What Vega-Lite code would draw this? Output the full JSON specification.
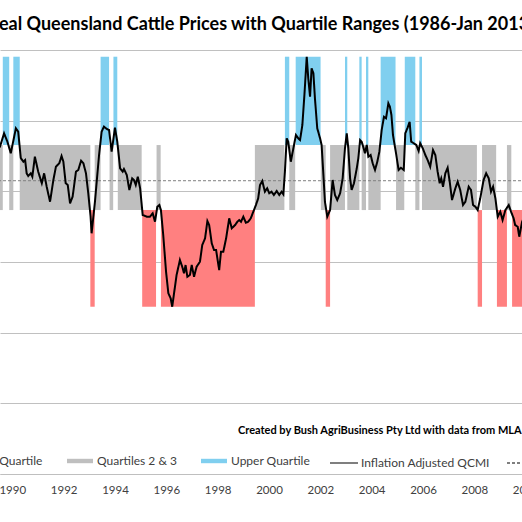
{
  "$schema": "https://vega.github.io/schema/vega-lite/v6.json",
  "width": 536,
  "height": 424,
  "autosize": {"type": "none"},
  "padding": {"left": 0, "right": -14, "top": 50, "bottom": 48},
  "background": "white",
  "title": {
    "text": "Real Queensland Cattle Prices with Quartile Ranges (1986-Jan 2013)",
    "font": "Lato",
    "fontSize": 18,
    "fontWeight": "bold",
    "color": "#000000",
    "anchor": "middle",
    "dx": -7,
    "offset": 16
  },
  "config": {
    "view": {"stroke": null},
    "font": "Lato"
  },
  "datasets": {
    "quartiles": [
      {"quartile": "Lower Quartile", "low": 236.7, "high": 373.5},
      {"quartile": "Quartiles 2 & 3", "low": 373.5, "high": 465.5},
      {"quartile": "Upper Quartile", "low": 465.5, "high": 590.5}
    ],
    "median": [
      {"price": 415}
    ],
    "note": [
      {"year": 1998.79, "price": 61.2, "label": "Created by Bush AgriBusiness Pty Ltd with data from MLA"}
    ],
    "bands": [
      {"start": 1989.40, "end": 1989.63, "quartile": "Quartiles 2 & 3"},
      {"start": 1989.63, "end": 1989.88, "quartile": "Upper Quartile"},
      {"start": 1989.88, "end": 1990.04, "quartile": "Quartiles 2 & 3"},
      {"start": 1990.04, "end": 1990.29, "quartile": "Upper Quartile"},
      {"start": 1990.29, "end": 1993.04, "quartile": "Quartiles 2 & 3"},
      {"start": 1993.04, "end": 1993.21, "quartile": "Lower Quartile"},
      {"start": 1993.21, "end": 1993.44, "quartile": "Quartiles 2 & 3"},
      {"start": 1993.44, "end": 1993.77, "quartile": "Upper Quartile"},
      {"start": 1993.79, "end": 1993.93, "quartile": "Quartiles 2 & 3"},
      {"start": 1993.94, "end": 1994.09, "quartile": "Upper Quartile"},
      {"start": 1994.11, "end": 1995.04, "quartile": "Quartiles 2 & 3"},
      {"start": 1995.06, "end": 1995.60, "quartile": "Lower Quartile"},
      {"start": 1995.62, "end": 1995.78, "quartile": "Quartiles 2 & 3"},
      {"start": 1995.79, "end": 1999.45, "quartile": "Lower Quartile"},
      {"start": 1999.45, "end": 2000.60, "quartile": "Quartiles 2 & 3"},
      {"start": 2000.62, "end": 2000.79, "quartile": "Upper Quartile"},
      {"start": 2000.79, "end": 2001.02, "quartile": "Quartiles 2 & 3"},
      {"start": 2001.04, "end": 2002.01, "quartile": "Upper Quartile"},
      {"start": 2002.02, "end": 2002.21, "quartile": "Quartiles 2 & 3"},
      {"start": 2002.21, "end": 2002.38, "quartile": "Lower Quartile"},
      {"start": 2002.38, "end": 2002.96, "quartile": "Quartiles 2 & 3"},
      {"start": 2002.96, "end": 2003.05, "quartile": "Upper Quartile"},
      {"start": 2003.05, "end": 2003.52, "quartile": "Quartiles 2 & 3"},
      {"start": 2003.52, "end": 2003.61, "quartile": "Upper Quartile"},
      {"start": 2003.61, "end": 2003.78, "quartile": "Quartiles 2 & 3"},
      {"start": 2003.78, "end": 2003.87, "quartile": "Upper Quartile"},
      {"start": 2003.87, "end": 2004.35, "quartile": "Quartiles 2 & 3"},
      {"start": 2004.35, "end": 2004.93, "quartile": "Upper Quartile"},
      {"start": 2004.95, "end": 2005.27, "quartile": "Quartiles 2 & 3"},
      {"start": 2005.29, "end": 2005.70, "quartile": "Upper Quartile"},
      {"start": 2005.70, "end": 2005.86, "quartile": "Quartiles 2 & 3"},
      {"start": 2005.86, "end": 2005.96, "quartile": "Upper Quartile"},
      {"start": 2005.96, "end": 2008.10, "quartile": "Quartiles 2 & 3"},
      {"start": 2008.13, "end": 2008.30, "quartile": "Lower Quartile"},
      {"start": 2008.30, "end": 2008.85, "quartile": "Quartiles 2 & 3"},
      {"start": 2008.88, "end": 2009.27, "quartile": "Lower Quartile"},
      {"start": 2009.27, "end": 2009.44, "quartile": "Quartiles 2 & 3"},
      {"start": 2009.47, "end": 2010.10, "quartile": "Lower Quartile"}
    ],
    "prices": [
      {"year": 1989.40, "price": 458.5},
      {"year": 1989.52, "price": 463.2},
      {"year": 1989.68, "price": 482.1},
      {"year": 1989.81, "price": 470.2},
      {"year": 1989.94, "price": 453.8},
      {"year": 1990.14, "price": 489.2},
      {"year": 1990.23, "price": 484.4},
      {"year": 1990.33, "price": 447.2},
      {"year": 1990.43, "price": 441.9},
      {"year": 1990.50, "price": 444.3},
      {"year": 1990.56, "price": 425.5},
      {"year": 1990.62, "price": 421.7},
      {"year": 1990.72, "price": 425.5},
      {"year": 1990.78, "price": 420.7},
      {"year": 1990.88, "price": 449.0},
      {"year": 1991.01, "price": 427.8},
      {"year": 1991.15, "price": 411.4},
      {"year": 1991.24, "price": 425.5},
      {"year": 1991.34, "price": 406.5},
      {"year": 1991.47, "price": 385.3},
      {"year": 1991.60, "price": 416.0},
      {"year": 1991.70, "price": 434.9},
      {"year": 1991.83, "price": 439.7},
      {"year": 1991.92, "price": 450.0},
      {"year": 1991.99, "price": 441.9},
      {"year": 1992.08, "price": 411.4},
      {"year": 1992.16, "price": 409.0},
      {"year": 1992.25, "price": 383.1},
      {"year": 1992.35, "price": 392.4},
      {"year": 1992.48, "price": 427.8},
      {"year": 1992.57, "price": 430.2},
      {"year": 1992.68, "price": 443.3},
      {"year": 1992.77, "price": 439.7},
      {"year": 1992.87, "price": 425.5},
      {"year": 1992.96, "price": 397.2},
      {"year": 1993.05, "price": 364.1},
      {"year": 1993.09, "price": 340.6},
      {"year": 1993.22, "price": 385.3},
      {"year": 1993.38, "price": 451.4},
      {"year": 1993.48, "price": 484.4},
      {"year": 1993.57, "price": 491.5},
      {"year": 1993.68, "price": 488.2},
      {"year": 1993.77, "price": 486.8},
      {"year": 1993.87, "price": 456.1},
      {"year": 1994.00, "price": 490.1},
      {"year": 1994.09, "price": 470.2},
      {"year": 1994.20, "price": 432.6},
      {"year": 1994.30, "price": 427.8},
      {"year": 1994.35, "price": 431.6},
      {"year": 1994.46, "price": 423.1},
      {"year": 1994.56, "price": 401.9},
      {"year": 1994.67, "price": 418.4},
      {"year": 1994.74, "price": 416.0},
      {"year": 1994.81, "price": 409.0},
      {"year": 1994.89, "price": 420.7},
      {"year": 1994.98, "price": 404.3},
      {"year": 1995.08, "price": 366.5},
      {"year": 1995.24, "price": 364.1},
      {"year": 1995.36, "price": 364.1},
      {"year": 1995.47, "price": 368.9},
      {"year": 1995.56, "price": 357.0},
      {"year": 1995.65, "price": 378.2},
      {"year": 1995.73, "price": 380.6},
      {"year": 1995.79, "price": 373.6},
      {"year": 1995.88, "price": 338.2},
      {"year": 1995.99, "price": 286.2},
      {"year": 1996.08, "price": 255.7},
      {"year": 1996.17, "price": 248.6},
      {"year": 1996.23, "price": 236.7},
      {"year": 1996.31, "price": 257.9},
      {"year": 1996.40, "price": 281.6},
      {"year": 1996.53, "price": 302.8},
      {"year": 1996.62, "price": 293.3},
      {"year": 1996.69, "price": 284.0},
      {"year": 1996.75, "price": 295.7},
      {"year": 1996.82, "price": 279.2},
      {"year": 1996.92, "price": 281.6},
      {"year": 1996.99, "price": 295.7},
      {"year": 1997.08, "price": 279.2},
      {"year": 1997.18, "price": 293.3},
      {"year": 1997.31, "price": 300.4},
      {"year": 1997.40, "price": 324.0},
      {"year": 1997.51, "price": 333.5},
      {"year": 1997.60, "price": 358.0},
      {"year": 1997.67, "price": 352.3},
      {"year": 1997.77, "price": 326.4},
      {"year": 1997.86, "price": 316.9},
      {"year": 1997.94, "price": 316.9},
      {"year": 1998.06, "price": 288.6},
      {"year": 1998.13, "price": 314.5},
      {"year": 1998.22, "price": 314.5},
      {"year": 1998.33, "price": 333.5},
      {"year": 1998.45, "price": 361.8},
      {"year": 1998.55, "price": 347.7},
      {"year": 1998.68, "price": 352.3},
      {"year": 1998.77, "price": 357.0},
      {"year": 1998.84, "price": 359.4},
      {"year": 1998.91, "price": 357.0},
      {"year": 1999.00, "price": 364.1},
      {"year": 1999.10, "price": 355.6},
      {"year": 1999.19, "price": 357.0},
      {"year": 1999.29, "price": 361.8},
      {"year": 1999.39, "price": 371.2},
      {"year": 1999.49, "price": 380.6},
      {"year": 1999.58, "price": 390.1},
      {"year": 1999.65, "price": 409.0},
      {"year": 1999.74, "price": 414.6},
      {"year": 1999.84, "price": 399.5},
      {"year": 1999.93, "price": 404.3},
      {"year": 2000.01, "price": 397.2},
      {"year": 2000.10, "price": 399.5},
      {"year": 2000.19, "price": 394.8},
      {"year": 2000.30, "price": 400.5},
      {"year": 2000.40, "price": 394.8},
      {"year": 2000.49, "price": 399.5},
      {"year": 2000.56, "price": 395.8},
      {"year": 2000.62, "price": 427.8},
      {"year": 2000.69, "price": 475.0},
      {"year": 2000.75, "price": 470.2},
      {"year": 2000.85, "price": 441.9},
      {"year": 2000.95, "price": 460.9},
      {"year": 2001.05, "price": 479.7},
      {"year": 2001.14, "price": 475.0},
      {"year": 2001.21, "price": 472.6},
      {"year": 2001.30, "price": 493.9},
      {"year": 2001.38, "price": 536.3},
      {"year": 2001.47, "price": 590.5},
      {"year": 2001.53, "price": 560.0},
      {"year": 2001.60, "price": 533.9},
      {"year": 2001.66, "price": 574.1},
      {"year": 2001.73, "price": 567.1},
      {"year": 2001.79, "price": 531.7},
      {"year": 2001.88, "price": 489.2},
      {"year": 2001.99, "price": 475.0},
      {"year": 2002.05, "price": 465.6},
      {"year": 2002.12, "price": 423.1},
      {"year": 2002.18, "price": 385.3},
      {"year": 2002.27, "price": 364.1},
      {"year": 2002.38, "price": 373.6},
      {"year": 2002.48, "price": 416.0},
      {"year": 2002.57, "price": 394.8},
      {"year": 2002.66, "price": 387.7},
      {"year": 2002.77, "price": 397.2},
      {"year": 2002.87, "price": 418.4},
      {"year": 2002.96, "price": 460.9},
      {"year": 2003.03, "price": 482.1},
      {"year": 2003.09, "price": 460.9},
      {"year": 2003.16, "price": 418.4},
      {"year": 2003.22, "price": 401.9},
      {"year": 2003.31, "price": 411.4},
      {"year": 2003.42, "price": 432.6},
      {"year": 2003.48, "price": 446.7},
      {"year": 2003.55, "price": 472.6},
      {"year": 2003.61, "price": 470.2},
      {"year": 2003.67, "price": 463.2},
      {"year": 2003.74, "price": 453.8},
      {"year": 2003.81, "price": 465.6},
      {"year": 2003.87, "price": 449.0},
      {"year": 2003.96, "price": 451.4},
      {"year": 2004.04, "price": 439.7},
      {"year": 2004.13, "price": 430.2},
      {"year": 2004.22, "price": 441.9},
      {"year": 2004.30, "price": 456.1},
      {"year": 2004.39, "price": 486.8},
      {"year": 2004.48, "price": 505.6},
      {"year": 2004.56, "price": 503.4},
      {"year": 2004.65, "price": 524.6},
      {"year": 2004.71, "price": 519.8},
      {"year": 2004.77, "price": 508.0},
      {"year": 2004.83, "price": 479.7},
      {"year": 2004.96, "price": 451.4},
      {"year": 2005.05, "price": 430.2},
      {"year": 2005.14, "price": 433.4},
      {"year": 2005.25, "price": 430.2},
      {"year": 2005.31, "price": 482.1},
      {"year": 2005.40, "price": 490.1},
      {"year": 2005.48, "price": 498.5},
      {"year": 2005.54, "price": 470.2},
      {"year": 2005.64, "price": 468.0},
      {"year": 2005.74, "price": 465.6},
      {"year": 2005.83, "price": 457.1},
      {"year": 2005.89, "price": 468.0},
      {"year": 2005.99, "price": 460.9},
      {"year": 2006.09, "price": 451.4},
      {"year": 2006.18, "price": 444.3},
      {"year": 2006.28, "price": 434.9},
      {"year": 2006.39, "price": 458.5},
      {"year": 2006.48, "price": 451.4},
      {"year": 2006.57, "price": 427.8},
      {"year": 2006.65, "price": 411.4},
      {"year": 2006.71, "price": 418.4},
      {"year": 2006.78, "price": 406.5},
      {"year": 2006.87, "price": 425.5},
      {"year": 2006.96, "price": 433.4},
      {"year": 2007.04, "price": 413.6},
      {"year": 2007.13, "price": 387.7},
      {"year": 2007.26, "price": 404.3},
      {"year": 2007.35, "price": 413.6},
      {"year": 2007.45, "price": 401.9},
      {"year": 2007.56, "price": 380.6},
      {"year": 2007.65, "price": 385.3},
      {"year": 2007.78, "price": 406.5},
      {"year": 2007.87, "price": 401.9},
      {"year": 2007.95, "price": 380.6},
      {"year": 2008.04, "price": 378.2},
      {"year": 2008.13, "price": 373.6},
      {"year": 2008.23, "price": 390.1},
      {"year": 2008.36, "price": 416.0},
      {"year": 2008.46, "price": 425.5},
      {"year": 2008.56, "price": 418.4},
      {"year": 2008.65, "price": 399.5},
      {"year": 2008.73, "price": 406.5},
      {"year": 2008.82, "price": 390.1},
      {"year": 2008.91, "price": 364.1},
      {"year": 2009.01, "price": 371.2},
      {"year": 2009.10, "price": 359.4},
      {"year": 2009.21, "price": 373.6},
      {"year": 2009.34, "price": 380.6},
      {"year": 2009.43, "price": 371.2},
      {"year": 2009.53, "price": 361.8},
      {"year": 2009.59, "price": 352.3},
      {"year": 2009.69, "price": 349.9},
      {"year": 2009.75, "price": 335.8},
      {"year": 2009.86, "price": 357.0},
      {"year": 2009.97, "price": 366.0},
      {"year": 2010.08, "price": 372.0}
    ]
  },
  "layer": [
    {
      "data": {"name": "bands"},
      "transform": [
        {"lookup": "quartile", "from": {"data": {"name": "quartiles"}, "key": "quartile", "fields": ["low", "high"]}}
      ],
      "mark": {"type": "rect", "clip": true},
      "encoding": {
        "x": {
          "field": "start",
          "type": "quantitative",
          "scale": {"domain": [1989.521, 2010.402], "nice": false, "zero": false},
          "axis": {
            "values": [1990, 1992, 1994, 1996, 1998, 2000, 2002, 2004, 2006, 2008, 2010],
            "format": "d",
            "title": null,
            "grid": false,
            "ticks": false,
            "domainColor": "#bfbfbf",
            "domainWidth": 1,
            "labelFont": "Lato",
            "labelFontSize": 11.5,
            "labelColor": "#404040",
            "labelPadding": 10,
            "labelFlush": false,
            "labelOverlap": false
          }
        },
        "x2": {"field": "end"},
        "y": {
          "field": "low",
          "type": "quantitative",
          "scale": {"domain": [0, 600], "nice": false},
          "axis": {
            "values": [0, 100, 200, 300, 400, 500, 600],
            "title": null,
            "labels": false,
            "ticks": false,
            "domain": false,
            "grid": true,
            "gridColor": "#c0c0c0",
            "gridWidth": 1
          }
        },
        "y2": {"field": "high"},
        "color": {
          "field": "quartile",
          "type": "nominal",
          "scale": {
            "domain": ["Lower Quartile", "Quartiles 2 & 3", "Upper Quartile"],
            "range": ["#ff8080", "#bfbfbf", "#80cfef"]
          },
          "legend": {
            "orient": "none",
            "legendX": -66,
            "legendY": 398,
            "direction": "horizontal",
            "title": null,
            "symbolType": "M-1,-0.17H1V0.17H-1Z",
            "symbolSize": 676,
            "symbolStrokeWidth": 0,
            "labelFont": "Lato",
            "labelFontSize": 12,
            "labelColor": "#404040",
            "labelOffset": 4,
            "columnPadding": 24
          }
        }
      }
    },
    {
      "data": {"name": "median"},
      "mark": {"type": "rule", "color": "#7f7f7f", "strokeWidth": 1},
      "encoding": {
        "y": {"field": "price", "type": "quantitative"},
        "strokeDash": {"datum": "Median"}
      }
    },
    {
      "data": {"name": "prices"},
      "mark": {"type": "line", "color": "#000000", "strokeWidth": 2, "clip": true},
      "encoding": {
        "x": {"field": "year", "type": "quantitative"},
        "y": {"field": "price", "type": "quantitative"},
        "strokeDash": {
          "datum": "Inflation Adjusted QCMI",
          "scale": {
            "domain": ["Inflation Adjusted QCMI", "Median"],
            "range": [[1, 0], [3, 2]]
          },
          "legend": {
            "orient": "none",
            "legendX": 329,
            "legendY": 398,
            "direction": "horizontal",
            "title": null,
            "symbolType": "stroke",
            "symbolSize": 784,
            "symbolStrokeWidth": 2,
            "labelFont": "Lato",
            "labelFontSize": 12,
            "labelColor": "#404040",
            "labelOffset": 2,
            "columnPadding": 13,
            "encode": {
              "symbols": {
                "update": {
                  "stroke": {"signal": "datum.value === 'Median' ? '#a6a6a6' : '#000000'"}
                }
              }
            }
          }
        }
      }
    },
    {
      "data": {"name": "note"},
      "mark": {
        "type": "text",
        "align": "left",
        "baseline": "middle",
        "font": "Lato",
        "fontSize": 11,
        "fontWeight": "bold",
        "color": "#000000"
      },
      "encoding": {
        "x": {"field": "year", "type": "quantitative"},
        "y": {"field": "price", "type": "quantitative"},
        "text": {"field": "label"}
      }
    }
  ]
}
